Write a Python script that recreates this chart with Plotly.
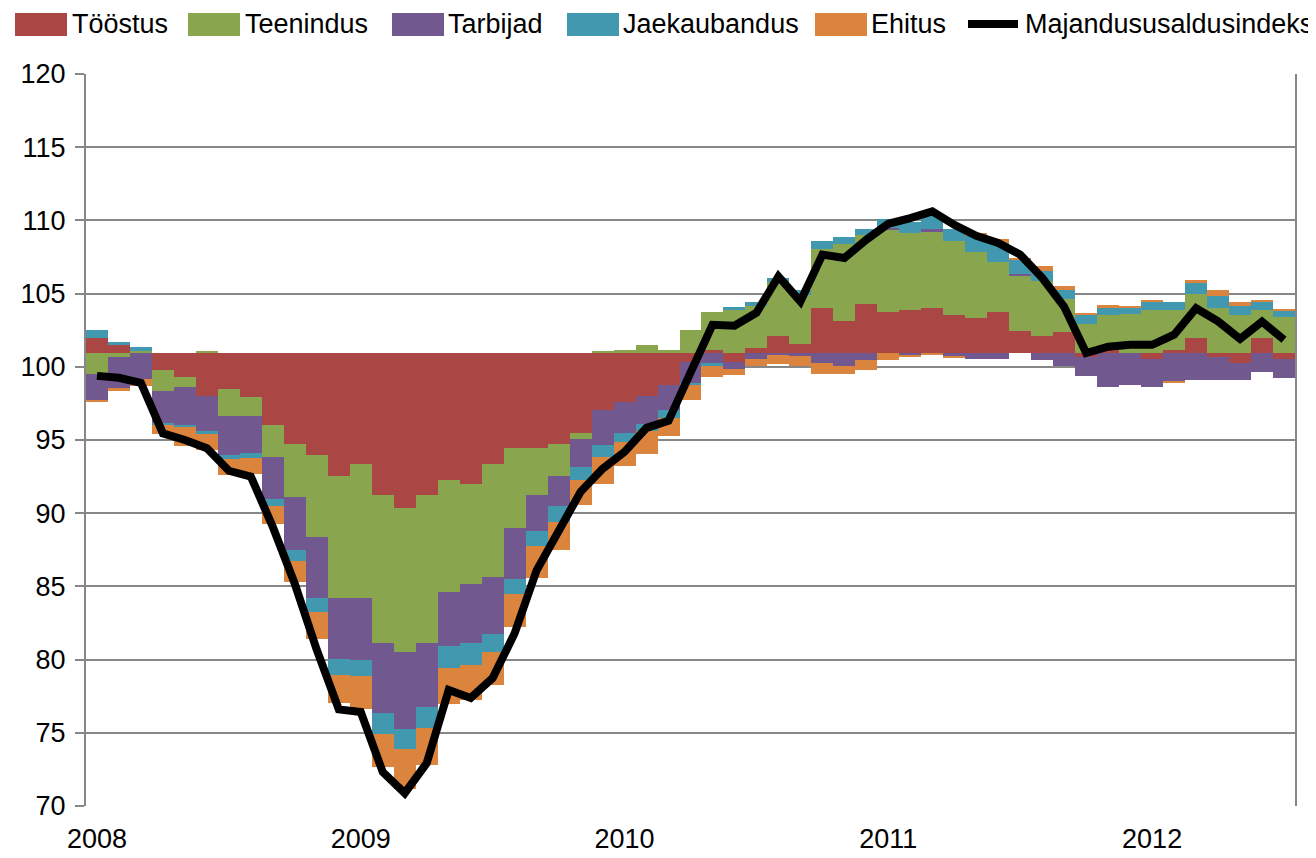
import plotly.graph_objects as go

# ---------------- data ----------------
months = list(range(55))  # Jan 2008 .. Jul 2012
year_ticks = [0, 12, 24, 36, 48]
year_labels = ["2008", "2009", "2010", "2011", "2012"]

baseline = 100.95

toostus = [1.05, 0.52, 0.0, -1.16, -1.64, -2.96, -2.44, -3.00, -4.94, -6.20,
           -6.99, -8.43, -7.61, -9.73, -10.59, -9.73, -8.70, -8.93, -7.61, -6.47,
           -6.47, -6.24, -5.47, -3.87, -3.35, -2.96, -2.21, -0.62, 0.23, -0.62,
           0.34, 1.14, 0.59, 3.10, 2.19, 3.33, 2.80, 2.92, 3.10, 2.57,
           2.35, 2.80, 1.50, 1.14, 1.44, -0.27, 0.38, 0.0, -0.39, 0.23,
           1.05, -0.27, -0.68, 1.05, -0.39]
teenindus = [-1.41, -0.27, 0.14, -1.43, -0.68, 0.11, -1.89, -1.32, -2.16, -3.64,
             -5.58, -8.29, -9.11, -10.09, -9.84, -10.09, -7.63, -6.88, -7.70, -5.47,
             -3.26, -2.19, -0.39, 0.11, 0.23, 0.52, 0.23, 1.55, 2.57, 2.94,
             2.85, 3.71, 3.35, 4.03, 5.22, 4.72, 5.63, 5.24, 5.22, 5.08,
             4.56, 3.42, 3.80, 3.78, 2.21, 1.96, 2.20, 2.69, 2.96, 2.73,
             2.96, 3.10, 2.57, 1.91, 2.46]
tarbijad = [-1.82, -2.16, -1.80, -2.20, -2.62, -2.44, -2.67, -2.55, -2.85, -3.64,
            -4.15, -4.17, -4.24, -4.78, -5.24, -4.37, -3.71, -4.01, -3.87, -3.49,
            -2.44, -2.05, -1.94, -2.44, -2.12, -1.87, -1.66, -1.44, -0.75, -0.50,
            -0.39, -0.16, -0.23, -0.66, -0.89, -0.50, 0.11, -0.16, 0.11, -0.27,
            -0.39, -0.39, 0.11, -0.50, -0.91, -1.32, -2.32, -2.21, -1.94, -1.98,
            -1.82, -1.55, -1.14, -1.30, -1.30]
jaekaubandus = [0.50, 0.23, 0.23, -0.14, -0.11, -0.11, -0.23, -0.34, -0.50, -0.73,
                -0.98, -1.14, -1.14, -1.41, -1.37, -1.41, -1.46, -1.53, -1.25, -1.03,
                -1.05, -1.07, -0.87, -0.80, -0.62, -0.50, -0.55, -0.16, -0.12, 0.18,
                0.30, 0.30, 0.34, 0.52, 0.48, 0.39, 0.64, 0.80, 0.98, 0.84,
                1.07, 1.30, 0.91, 0.68, 0.64, 0.62, 0.52, 0.41, 0.52, 0.52,
                0.77, 0.77, 0.62, 0.52, 0.41]
ehitus = [-0.11, -0.16, -0.45, -0.60, -1.32, -1.14, -1.14, -1.03, -1.21, -1.44,
          -1.82, -1.89, -2.21, -2.28, -2.73, -2.57, -2.46, -2.39, -2.28, -2.28,
          -2.14, -1.89, -1.75, -1.82, -1.65, -1.55, -1.28, -1.03, -0.78, -0.37,
          -0.50, -0.62, -0.66, -0.75, -0.52, -0.68, -0.50, -0.11, -0.16, -0.11,
          0.18, 0.23, 0.18, 0.32, 0.27, 0.16, 0.16, 0.09, 0.16, -0.11,
          0.23, 0.41, 0.30, 0.16, 0.09]
indeks = [99.38, 99.25, 98.90, 95.45, 95.00, 94.44, 92.90, 92.50, 89.06, 85.17,
          80.66, 76.60, 76.42, 72.32, 70.88, 72.93, 77.92, 77.38, 78.74, 81.80,
          86.10, 88.65, 91.46, 93.03, 94.19, 95.83, 96.31, 99.60, 102.87, 102.80,
          103.69, 106.17, 104.46, 107.66, 107.43, 108.68, 109.77, 110.16, 110.62, 109.70,
          108.95, 108.46, 107.66, 106.08, 104.10, 100.94, 101.37, 101.50, 101.50, 102.19,
          104.00, 103.10, 101.91, 103.08, 101.85]

series = [
    ("Tööstus", toostus, "#AA4643"),
    ("Teenindus", teenindus, "#89A54E"),
    ("Tarbijad", tarbijad, "#71588F"),
    ("Jaekaubandus", jaekaubandus, "#4198AF"),
    ("Ehitus", ehitus, "#DB843D"),
]

FONT = "Liberation Sans, Arial, sans-serif"
GRID = "#878787"

fig = go.Figure()

# stacked contributions around the baseline (positives up, negatives down)
pos = [baseline] * len(months)
neg = [baseline] * len(months)
for name, vals, color in series:
    bases = []
    for i, v in enumerate(vals):
        if v >= 0:
            bases.append(pos[i]); pos[i] += v
        else:
            bases.append(neg[i]); neg[i] += v
    fig.add_trace(go.Bar(x=months, y=vals, base=bases, name=name,
                         marker=dict(color=color, line=dict(width=0)),
                         width=1.0, showlegend=False))

fig.add_trace(go.Scatter(x=months, y=indeks, mode="lines", name="Majandususaldusindeks",
                         line=dict(color="black", width=8), showlegend=False))

# ---------------- layout geometry (page pixels; page body has an 8px offset) -------------
OFF = 8
PL, PR, PT, PB = 86, 1295, 74, 806          # plot area in page pixels
FIG_W, FIG_H = 1316 - OFF, 858 - OFF
L, T = PL - OFF, PT - OFF
R, B = FIG_W - (PR - OFF), FIG_H - (PB - OFF)
W, H = PR - PL, PB - PT
fx = lambda px: (px - PL) / W
fy = lambda py: (PB - py) / H

# ---------------- custom legend (Excel-style swatches) ----------------
legend_items = [
    ("Tööstus", "#AA4643", 15, 70),
    ("Teenindus", "#89A54E", 188, 243),
    ("Tarbijad", "#71588F", 392, 446),
    ("Jaekaubandus", "#4198AF", 567, 621),
    ("Ehitus", "#DB843D", 815, 869),
]
shapes = []
annotations = []
for txt, col, sx, tx in legend_items:
    shapes.append(dict(type="rect", xref="paper", yref="paper",
                       x0=fx(sx), x1=fx(sx + 52), y0=fy(36), y1=fy(13),
                       fillcolor=col, line=dict(width=0)))
    annotations.append(dict(text=txt, xref="paper", yref="paper", x=fx(tx), y=fy(24),
                            xanchor="left", yanchor="middle", showarrow=False,
                            font=dict(family=FONT, size=27, color="black")))
shapes.append(dict(type="line", xref="paper", yref="paper",
                   x0=fx(968), x1=fx(1018), y0=fy(24), y1=fy(24),
                   line=dict(color="black", width=8)))
annotations.append(dict(text="Majandususaldusindeks", xref="paper", yref="paper",
                        x=fx(1023), y=fy(24), xanchor="left", yanchor="middle",
                        showarrow=False, font=dict(family=FONT, size=27, color="black")))

fig.update_layout(
    width=FIG_W, height=FIG_H,
    margin=dict(l=L, r=R, t=T, b=B, pad=0),
    paper_bgcolor="white", plot_bgcolor="white",
    barmode="overlay", bargap=0,
    showlegend=False,
    font=dict(family=FONT, size=27, color="black"),
    shapes=shapes, annotations=annotations,
    xaxis=dict(range=[-0.5, 54.5], tickmode="array", tickvals=year_ticks,
               ticktext=year_labels, showgrid=False, zeroline=False,
               showline=False, ticks="", ticklabelstandoff=14, automargin=False,
               tickfont=dict(size=27)),
    xaxis2=dict(overlaying="x", anchor="free", position=(100 - 70) / (120 - 70),
                range=[-0.5, 54.5], tickmode="linear", tick0=-0.5, dtick=3,
                showticklabels=False, ticks="outside", ticklen=9, tickwidth=2,
                tickcolor=GRID, showline=True, linecolor=GRID, linewidth=2,
                showgrid=False, zeroline=False, layer="above traces", automargin=False),
    yaxis=dict(range=[70, 120], tickmode="linear", tick0=70, dtick=5,
               showgrid=True, gridcolor=GRID, gridwidth=2,
               showline=True, linecolor=GRID, linewidth=2, mirror=True,
               ticks="outside", ticklen=9, tickwidth=2, tickcolor=GRID,
               ticklabelstandoff=4, zeroline=False, automargin=False,
               tickfont=dict(size=27)),
)

fig.write_html("out.html")
